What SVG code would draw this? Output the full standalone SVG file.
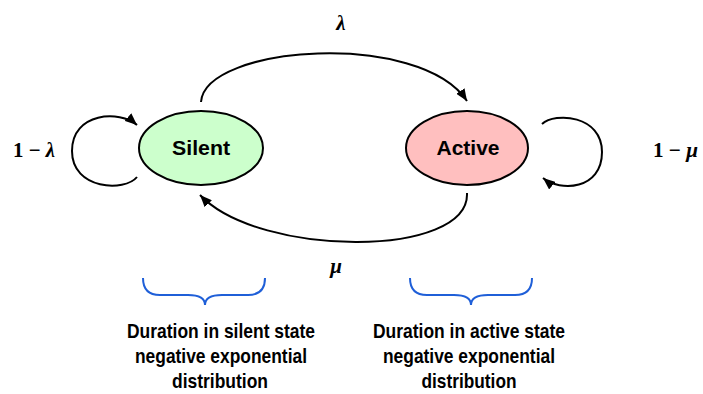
<svg xmlns="http://www.w3.org/2000/svg" width="703" height="394" viewBox="0 0 703 394">
<style>
.node{stroke:#000;stroke-width:2}
.lbl{font-family:"Liberation Sans",Arial,sans-serif;font-weight:bold;font-size:20px;text-anchor:middle}
.edge{fill:none;stroke:#000;stroke-width:2}
.math{font-family:"Liberation Serif","Times New Roman",serif;font-weight:bold;font-size:21px}
.brace{fill:none;stroke:#1f5fd8;stroke-width:2}
.desc{font-family:"Liberation Sans Narrow","Liberation Sans",Arial,sans-serif;font-weight:bold;font-size:21px;text-anchor:middle}
</style>
<defs>
<marker id="ah" markerWidth="12" markerHeight="10" refX="12" refY="5" orient="auto" markerUnits="userSpaceOnUse">
<path d="M0,0 L12,5 L0,10 Z" fill="#000"/>
</marker>
</defs>
<rect width="703" height="394" fill="#fff"/>
<g id="silent">
<ellipse class="node" cx="201" cy="148" rx="62" ry="37" fill="#ccffcc"/>
<text class="lbl" x="201" y="155" textLength="58" lengthAdjust="spacingAndGlyphs">Silent</text>
</g>
<g id="active">
<ellipse class="node" cx="467" cy="148" rx="61" ry="37" fill="#ffbfbf"/>
<text class="lbl" x="468" y="155" textLength="63" lengthAdjust="spacingAndGlyphs">Active</text>
</g>
<g id="connectors">
<path class="edge" d="M201,102 C205,45 420,30 467,101" marker-end="url(#ah)"/>
<path class="edge" d="M467,193 C470,258 260,258 200,195" marker-end="url(#ah)"/>
<path class="edge" d="M137,177 C125,192 72,190 72,151 C72,112 120,110 137,125" marker-end="url(#ah)"/>
<path class="edge" d="M542,124 C555,112 602,115 602,152 C602,190 560,192 543,178" marker-end="url(#ah)"/>
</g>
<g id="labels">
<text class="math" x="341" y="30" text-anchor="middle" font-style="italic">λ</text>
<text class="math" x="336" y="273" text-anchor="middle" font-style="italic">μ</text>
<text class="math" x="13" y="157" textLength="42" lengthAdjust="spacingAndGlyphs">1 − <tspan font-style="italic">λ</tspan></text>
<text class="math" x="653" y="157" textLength="45" lengthAdjust="spacingAndGlyphs">1 − <tspan font-style="italic">μ</tspan></text>
</g>
<g id="brace-silent">
<path class="brace" d="M143,278 Q143,295 160,295 L188,295 Q205,295 205,305 Q205,295 222,295 L248,295 Q265,295 265,278"/>
</g>
<g id="brace-active">
<path class="brace" d="M410,278 Q410,295 427,295 L454,295 Q471,295 471,305 Q471,295 488,295 L515,295 Q532,295 532,278"/>
</g>
<g id="desc-silent">
<text class="desc" x="221" y="338" textLength="188" lengthAdjust="spacingAndGlyphs">Duration in silent state</text>
<text class="desc" x="221" y="363" textLength="172" lengthAdjust="spacingAndGlyphs">negative exponential</text>
<text class="desc" x="220" y="388" textLength="96" lengthAdjust="spacingAndGlyphs">distribution</text>
</g>
<g id="desc-active">
<text class="desc" x="469" y="338" textLength="192" lengthAdjust="spacingAndGlyphs">Duration in active state</text>
<text class="desc" x="469" y="363" textLength="172" lengthAdjust="spacingAndGlyphs">negative exponential</text>
<text class="desc" x="469" y="388" textLength="95" lengthAdjust="spacingAndGlyphs">distribution</text>
</g>
</svg>
